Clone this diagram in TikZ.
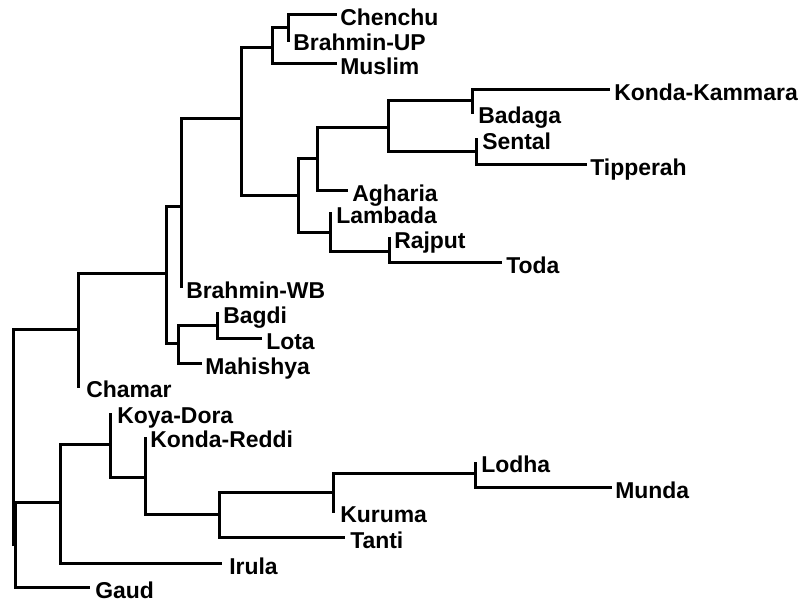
\documentclass[tikz,border=0pt]{standalone}
\usepackage{fontspec}
\setmainfont{Liberation Sans}
\begin{document}
\begin{tikzpicture}[x=0.75pt,y=-0.75pt,
  branch/.style={line width=2.25pt, line join=miter},
  taxon/.style={anchor=base west, inner sep=0pt, font=\fontsize{17.2}{20}\selectfont\bfseries}]
\useasboundingbox (0,0) rectangle (806,601);
% internal nodes (x, y of connection)
\coordinate (R)    at (13,546);
\coordinate (R2)   at (15,502);
\coordinate (n78)  at (78,329);
\coordinate (n166) at (166,273);
\coordinate (n181) at (181,206);
\coordinate (n241) at (241,118);
\coordinate (n272) at (272,47);
\coordinate (n288) at (288,27);
\coordinate (n298) at (298,195);
\coordinate (n317) at (317,158);
\coordinate (n388) at (388,127);
\coordinate (n472) at (472,100);
\coordinate (n476) at (476,151);
\coordinate (n330) at (330,232);
\coordinate (n389) at (389,251);
\coordinate (n178) at (178,343);
\coordinate (n217) at (217,325);
\coordinate (n60)  at (60,502);
\coordinate (n110) at (110,444);
\coordinate (n145) at (145,477);
\coordinate (n219) at (219,514);
\coordinate (n333) at (333,492);
\coordinate (n475) at (475,473);
% leaf tips
\coordinate (tChenchu)  at (337,14);
\coordinate (tBrUP)     at (288,42);
\coordinate (tMuslim)   at (337,63);
\coordinate (tKK)       at (610,89);
\coordinate (tBadaga)   at (472,114);
\coordinate (tSental)   at (476,138);
\coordinate (tTipperah) at (587,164);
\coordinate (tAgharia)  at (348,190);
\coordinate (tLambada)  at (330,212);
\coordinate (tRajput)   at (389,237);
\coordinate (tToda)     at (502,262);
\coordinate (tBrWB)     at (181,288);
\coordinate (tBagdi)    at (217,312);
\coordinate (tLota)     at (262,338);
\coordinate (tMahishya) at (202,363);
\coordinate (tChamar)   at (78,388);
\coordinate (tKoya)     at (110,413);
\coordinate (tKReddi)   at (145,437);
\coordinate (tLodha)    at (475,462);
\coordinate (tMunda)    at (612,487);
\coordinate (tKuruma)   at (333,513);
\coordinate (tTanti)    at (345,537);
\coordinate (tIrula)    at (222,563);
\coordinate (tGaud)     at (90,587);
% labels
\node[taxon] (Chenchu)  at (340,25)  {Chenchu};
\node[taxon] (BrUP)     at (293,50)  {Brahmin-UP};
\node[taxon] (Muslim)   at (340,74)  {Muslim};
\node[taxon] (KK)       at (614,100) {Konda-Kammara};
\node[taxon] (Badaga)   at (478,123) {Badaga};
\node[taxon] (Sental)   at (482,149) {Sental};
\node[taxon] (Tipperah) at (590,175) {Tipperah};
\node[taxon] (Agharia)  at (352,201) {Agharia};
\node[taxon] (Lambada)  at (336,223) {Lambada};
\node[taxon] (Rajput)   at (394,248) {Rajput};
\node[taxon] (Toda)     at (506,273) {Toda};
\node[taxon] (BrWB)     at (186,298) {Brahmin-WB};
\node[taxon] (Bagdi)    at (223,323) {Bagdi};
\node[taxon] (Lota)     at (266,349) {Lota};
\node[taxon] (Mahishya) at (205,374) {Mahishya};
\node[taxon] (Chamar)   at (86,397)  {Chamar};
\node[taxon] (Koya)     at (117,423) {Koya-Dora};
\node[taxon] (KReddi)   at (150,447) {Konda-Reddi};
\node[taxon] (Lodha)    at (481,472) {Lodha};
\node[taxon] (Munda)    at (615,498) {Munda};
\node[taxon] (Kuruma)   at (340,522) {Kuruma};
\node[taxon] (Tanti)    at (350,548) {Tanti};
\node[taxon] (Irula)    at (229,574) {Irula};
\node[taxon] (Gaud)     at (95,598)  {Gaud};
% branches
\draw[branch] (R) |- (n78);
\draw[branch] (R) |- (n60);
\draw[branch] (R2) |- (tGaud);
\draw[branch] (n78) |- (n166);
\draw[branch] (n78) |- (tChamar);
\draw[branch] (n166) |- (n181);
\draw[branch] (n166) |- (n178);
\draw[branch] (n181) |- (n241);
\draw[branch] (n181) |- (tBrWB);
\draw[branch] (n241) |- (n272);
\draw[branch] (n241) |- (n298);
\draw[branch] (n272) |- (n288);
\draw[branch] (n272) |- (tMuslim);
\draw[branch] (n288) |- (tChenchu);
\draw[branch] (n288) |- (tBrUP);
\draw[branch] (n298) |- (n317);
\draw[branch] (n298) |- (n330);
\draw[branch] (n317) |- (n388);
\draw[branch] (n317) |- (tAgharia);
\draw[branch] (n388) |- (n472);
\draw[branch] (n388) |- (n476);
\draw[branch] (n472) |- (tKK);
\draw[branch] (n472) |- (tBadaga);
\draw[branch] (n476) |- (tSental);
\draw[branch] (n476) |- (tTipperah);
\draw[branch] (n330) |- (tLambada);
\draw[branch] (n330) |- (n389);
\draw[branch] (n389) |- (tRajput);
\draw[branch] (n389) |- (tToda);
\draw[branch] (n178) |- (n217);
\draw[branch] (n178) |- (tMahishya);
\draw[branch] (n217) |- (tBagdi);
\draw[branch] (n217) |- (tLota);
\draw[branch] (n60) |- (n110);
\draw[branch] (n60) |- (tIrula);
\draw[branch] (n110) |- (tKoya);
\draw[branch] (n110) |- (n145);
\draw[branch] (n145) |- (tKReddi);
\draw[branch] (n145) |- (n219);
\draw[branch] (n219) |- (n333);
\draw[branch] (n219) |- (tTanti);
\draw[branch] (n333) |- (n475);
\draw[branch] (n333) |- (tKuruma);
\draw[branch] (n475) |- (tLodha);
\draw[branch] (n475) |- (tMunda);
\end{tikzpicture}
\end{document}
